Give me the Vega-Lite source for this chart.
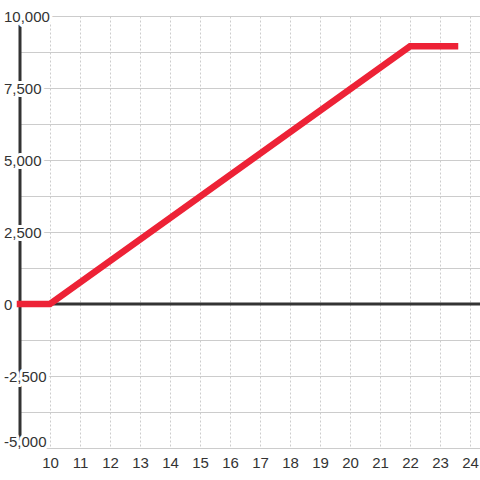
{
  "$schema": "https://vega.github.io/schema/vega-lite/v6.json",
  "width": 460,
  "height": 432,
  "autosize": {"type": "none"},
  "padding": {"left": 20, "top": 16, "right": 0, "bottom": 32},
  "background": "#ffffff",
  "config": {"view": {"stroke": null}, "font": "Liberation Sans"},
  "datasets": {
    "payoff": [
      {"price": 9, "value": 0},
      {"price": 10, "value": 0},
      {"price": 22, "value": 8950},
      {"price": 23.5, "value": 8950}
    ],
    "ylabels": [
      {"v": -5000, "label": "-5,000"},
      {"v": -2500, "label": "-2,500"},
      {"v": 0, "label": "0"},
      {"v": 2500, "label": "2,500"},
      {"v": 5000, "label": "5,000"},
      {"v": 7500, "label": "7,500"},
      {"v": 10000, "label": "10,000"}
    ]
  },
  "encoding": {
    "x": {
      "type": "quantitative",
      "scale": {"domain": [9, 24.3333], "nice": false, "zero": false},
      "axis": {
        "title": null,
        "values": [10, 11, 12, 13, 14, 15, 16, 17, 18, 19, 20, 21, 22, 23, 24],
        "domain": false,
        "ticks": false,
        "tickSize": 0,
        "labelPadding": 7,
        "labelFontSize": 15,
        "labelColor": "#333333",
        "labelFont": "Liberation Sans",
        "grid": true,
        "gridColor": "#cccccc",
        "gridDash": [2, 2],
        "gridWidth": 1
      }
    },
    "y": {
      "type": "quantitative",
      "scale": {"domain": [-5000, 10000], "nice": false, "zero": false},
      "axis": {
        "title": null,
        "values": [-5000, -3750, -2500, -1250, 0, 1250, 2500, 3750, 5000, 6250, 7500, 8750, 10000],
        "labels": false,
        "domain": false,
        "ticks": false,
        "grid": true,
        "gridColor": "#cccccc",
        "gridWidth": 1
      }
    }
  },
  "layer": [
    {
      "data": {"values": [{}]},
      "mark": {"type": "rule", "color": "#333333", "strokeWidth": 3},
      "encoding": {
        "x": {"datum": 9},
        "y": {"datum": -4750},
        "y2": {"datum": 10000}
      }
    },
    {
      "data": {"name": "ylabels"},
      "transform": [{"filter": "datum.v > -5000"}],
      "mark": {"type": "text", "align": "left", "baseline": "middle", "dx": -16, "dy": 0.5, "fontSize": 15, "font": "Liberation Sans", "fill": "#ffffff", "stroke": "#ffffff", "strokeWidth": 6, "strokeJoin": "round"},
      "encoding": {
        "x": {"datum": 9},
        "y": {"field": "v", "type": "quantitative"},
        "text": {"field": "label", "type": "nominal"}
      }
    },
    {
      "data": {"name": "ylabels"},
      "transform": [{"filter": "datum.v == -5000"}],
      "mark": {"type": "text", "align": "left", "baseline": "middle", "dx": -16, "dy": -6, "fontSize": 15, "font": "Liberation Sans", "fill": "#ffffff", "stroke": "#ffffff", "strokeWidth": 6, "strokeJoin": "round"},
      "encoding": {
        "x": {"datum": 9},
        "y": {"field": "v", "type": "quantitative"},
        "text": {"field": "label", "type": "nominal"}
      }
    },
    {
      "data": {"values": [{}]},
      "mark": {"type": "rule", "color": "#333333", "strokeWidth": 3},
      "encoding": {
        "y": {"datum": 0}
      }
    },
    {
      "data": {"name": "payoff"},
      "mark": {"type": "line", "color": "#ed2236", "strokeWidth": 6.5, "strokeCap": "square"},
      "encoding": {
        "x": {"field": "price", "type": "quantitative"},
        "y": {"field": "value", "type": "quantitative"}
      }
    },
    {
      "data": {"name": "ylabels"},
      "transform": [{"filter": "datum.v > -5000"}],
      "mark": {"type": "text", "align": "left", "baseline": "middle", "dx": -16, "dy": 0.5, "fontSize": 15, "font": "Liberation Sans", "color": "#333333"},
      "encoding": {
        "x": {"datum": 9},
        "y": {"field": "v", "type": "quantitative"},
        "text": {"field": "label", "type": "nominal"}
      }
    },
    {
      "data": {"name": "ylabels"},
      "transform": [{"filter": "datum.v == -5000"}],
      "mark": {"type": "text", "align": "left", "baseline": "middle", "dx": -16, "dy": -6, "fontSize": 15, "font": "Liberation Sans", "color": "#333333"},
      "encoding": {
        "x": {"datum": 9},
        "y": {"field": "v", "type": "quantitative"},
        "text": {"field": "label", "type": "nominal"}
      }
    }
  ]
}
